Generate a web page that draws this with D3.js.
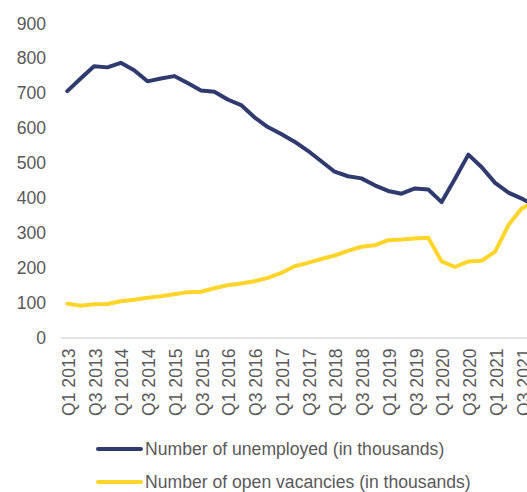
<!DOCTYPE html>
<html>
<head>
<meta charset="utf-8">
<script src="https://cdn.jsdelivr.net/npm/d3@7"></script>
<style>
    body { margin: 0; background: #fff; }
    svg { display: block; font-family: "Liberation Sans", Arial, sans-serif; }
</style>
</head>
<body>
<svg id="chart" width="527" height="492"></svg>
<script>
// quarters Q1 2013 .. Q4 2021
const years = [2013, 2014, 2015, 2016, 2017, 2018, 2019, 2020, 2021];
const quarters = years.flatMap(y => ["Q1", "Q2", "Q3", "Q4"].map(q => q + " " + y));

// number of unemployed (in thousands)
const unemployed = [706, 742, 777, 774, 787, 766, 734, 742, 749, 729, 708, 704,
    682, 666, 631, 603, 583, 561, 535, 505, 475, 462, 456, 436,
    420, 412, 427, 424, 388, 455, 524, 488, 443, 415, 398, 376];

// number of open vacancies (in thousands)
const vacancies = [97, 91, 95, 96, 104, 108, 114, 118, 124, 130, 131, 141,
    150, 155, 161, 171, 185, 204, 214, 225, 235, 248, 260, 264,
    279, 281, 284, 286, 218, 202, 218, 220, 246, 322, 370, 390];

const yTicks = [0, 100, 200, 300, 400, 500, 600, 700, 800, 900];

const series = [
    { name: "Number of unemployed (in thousands)", values: unemployed, color: "#2f3a6e" },
    { name: "Number of open vacancies (in thousands)", values: vacancies, color: "#ffd52a" }
];

const svg = d3.select("#chart");
const textColor = "#595959";
const fontSize = "17.6px";

const x = d3.scaleBand().domain(quarters).range([60.6, 541.9]).padding(0);
const y = d3.scaleLinear().domain([0, 900]).range([337.5, 23.4]);

// y axis: labels only
const yAxis = svg.append("g")
    .attr("transform", "translate(46,0)")
    .call(d3.axisLeft(y).tickValues(yTicks).tickSize(0).tickPadding(0));
yAxis.select(".domain").remove();
yAxis.selectAll("text")
    .attr("fill", textColor)
    .style("font-size", fontSize)
    .style("font-family", "'Liberation Sans', Arial, sans-serif");

// x axis: light line + rotated labels every other quarter
const xAxis = svg.append("g")
    .attr("transform", `translate(0,${y(0)})`)
    .call(d3.axisBottom(x).tickValues(quarters.filter((d, i) => i % 2 === 0)).tickSize(0));
xAxis.select(".domain").attr("stroke", "#d9d9d9").attr("stroke-width", 1.3);
xAxis.selectAll("text")
    .attr("fill", textColor)
    .style("font-size", fontSize)
    .style("font-family", "'Liberation Sans', Arial, sans-serif")
    .attr("transform", "rotate(-90)")
    .attr("text-anchor", "end")
    .attr("x", -11)
    .attr("y", 1.5)
    .attr("dy", "0.35em");

const line = d3.line()
    .x((d, i) => x(quarters[i]) + x.bandwidth() / 2)
    .y(d => y(d));

svg.selectAll("path.series")
    .data(series)
    .enter()
    .append("path")
    .attr("class", "series")
    .attr("d", d => line(d.values))
    .attr("fill", "none")
    .attr("stroke", d => d.color)
    .attr("stroke-width", 4)
    .attr("stroke-linejoin", "round")
    .attr("stroke-linecap", "round");

// legend
const legend = svg.append("g");
const items = legend.selectAll("g.item")
    .data(series)
    .enter()
    .append("g")
    .attr("class", "item")
    .attr("transform", (d, i) => `translate(0,${449 + i * 33})`);

items.append("line")
    .attr("x1", 98).attr("x2", 141)
    .attr("y1", 0).attr("y2", 0)
    .attr("stroke", d => d.color)
    .attr("stroke-width", 4)
    .attr("stroke-linecap", "round");

items.append("text")
    .attr("x", 145)
    .attr("y", 0)
    .attr("dy", "0.35em")
    .attr("fill", textColor)
    .style("font-size", fontSize)
    .text(d => d.name);
</script>
</body>
</html>
